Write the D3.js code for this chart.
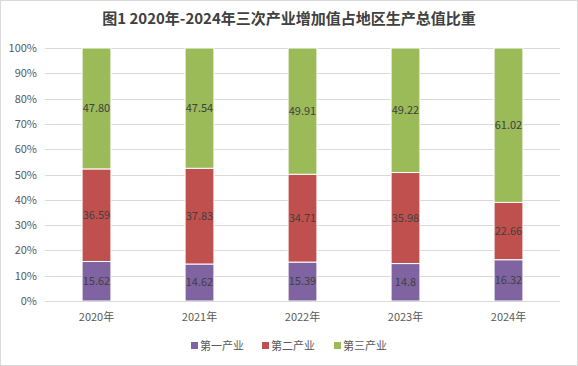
<!DOCTYPE html>
<html><head><meta charset="utf-8">
<script src="https://cdn.jsdelivr.net/npm/d3@7"></script>
<style>
html,body{margin:0;padding:0;background:#fff;}
svg{display:block;font-family:"Microsoft YaHei","Noto Sans CJK SC",sans-serif;}
</style></head><body>
<svg id="c" width="578" height="366"></svg>
<script>
const years = ["2020年","2021年","2022年","2023年","2024年"];
const seriesNames = ["第一产业","第二产业","第三产业"];
const primary = [15.62, 14.62, 15.39, 14.8, 16.32];
const secondary = [36.59, 37.83, 34.71, 35.98, 22.66];
const tertiary = [47.80, 47.54, 49.91, 49.22, 61.02];
const labels = [["15.62","14.62","15.39","14.8","16.32"],["36.59","37.83","34.71","35.98","22.66"],["47.80","47.54","49.91","49.22","61.02"]];
const yTicks = [0,0.1,0.2,0.3,0.4,0.5,0.6,0.7,0.8,0.9,1];
const colors = ["#8064A2","#C0504D","#9BBB59"];

const svg = d3.select("#c");
svg.append("rect").attr("x",0.5).attr("y",0.5).attr("width",577).attr("height",365)
  .attr("fill","#fff").attr("stroke","#d9d9d9");

svg.append("text").attr("x",289).attr("y",24).attr("text-anchor","middle")
  .attr("font-size",15).attr("font-weight","bold").attr("fill","#404040")
  .text("图1 2020年-2024年三次产业增加值占地区生产总值比重");

const x = d3.scaleBand().domain(years).range([45,560]).paddingInner(0.72).paddingOuter(0.36);
const y = d3.scaleLinear().domain([0,1]).range([301,48]);

const g = svg.append("g");
g.selectAll("line.grid").data(yTicks).join("line")
  .attr("x1",45).attr("x2",560).attr("y1",d=>Math.round(y(d))+0.5).attr("y2",d=>Math.round(y(d))+0.5)
  .attr("stroke","#d9d9d9").attr("stroke-width",1);

const yAxis = d3.axisLeft(y).tickValues(yTicks).tickFormat(d3.format(".0%")).tickSize(0).tickPadding(8);
const ya = svg.append("g").attr("transform","translate(45,0)").call(yAxis);
ya.select(".domain").remove();
ya.selectAll("text").attr("font-size",11).attr("fill","#595959").attr("font-family","\"Microsoft YaHei\",\"Noto Sans CJK SC\",sans-serif");

const xAxis = d3.axisBottom(x).tickSize(0).tickPadding(12);
const xa = svg.append("g").attr("transform","translate(0,301)").call(xAxis);
xa.select(".domain").remove();
xa.selectAll("text").attr("font-size",11).attr("fill","#595959").attr("font-family","\"Microsoft YaHei\",\"Noto Sans CJK SC\",sans-serif");

const rows = years.map((yr,i)=>({year:yr, s0:primary[i], s1:secondary[i], s2:tertiary[i], i}));
const stack = d3.stack().keys(["s0","s1","s2"]).offset(d3.stackOffsetExpand);
const layers = stack(rows);

layers.forEach((layer,k)=>{
  const lg = svg.append("g");
  lg.selectAll("rect").data(layer).join("rect")
    .attr("x",d=>x(d.data.year)).attr("width",x.bandwidth())
    .attr("y",d=>y(d[1])).attr("height",d=>y(d[0])-y(d[1]))
    .attr("fill",colors[k]).attr("stroke","#fff").attr("stroke-width",1);
  lg.selectAll("text").data(layer).join("text")
    .attr("x",d=>x(d.data.year)+x.bandwidth()/2).attr("y",d=>(y(d[0])+y(d[1]))/2)
    .attr("dy","0.35em").attr("text-anchor","middle").attr("font-size",11).attr("fill","#404040")
    .text(d=>labels[k][d.data.i]);
});

svg.append("line").attr("x1",45).attr("x2",560).attr("y1",301.5).attr("y2",301.5).attr("stroke","#d9d9d9");

const leg = svg.append("g").attr("transform","translate(0,346)");
const legX = [191,262,334];
seriesNames.forEach((n,k)=>{
  leg.append("rect").attr("x",legX[k]).attr("y",-4).attr("width",7).attr("height",7).attr("fill",colors[k]);
  leg.append("text").attr("x",legX[k]+9).attr("y",0).attr("dy","0.35em").attr("font-size",11)
    .attr("fill","#595959").text(n);
});
</script>
</body></html>
